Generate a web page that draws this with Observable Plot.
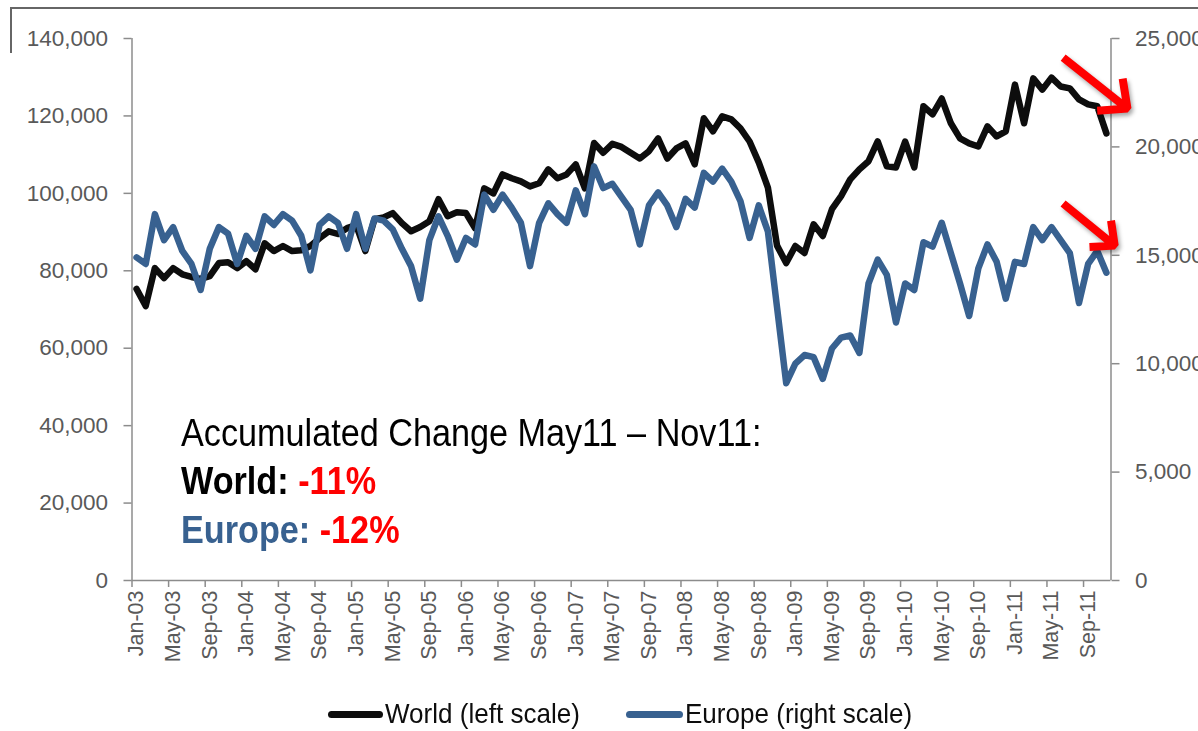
<!DOCTYPE html>
<html>
<head>
<meta charset="utf-8">
<script src="https://cdn.jsdelivr.net/npm/d3@7"></script>
<script src="https://cdn.jsdelivr.net/npm/@observablehq/plot@0.6"></script>
<style>
  html, body { margin: 0; padding: 0; background: #fff; }
  #wrap { position: relative; width: 1198px; height: 731px; overflow: hidden;
          font-family: "Liberation Sans", Arial, sans-serif; }
  #frame { position: absolute; left: 10px; top: 7px; width: 1250px; height: 44px;
           border-top: 2px solid #666; border-left: 2px solid #666; }
  #chart { position: absolute; left: 0; top: 0; }
  #note { position: absolute; left: 181px; top: 408.5px; font-size: 38px; line-height: 48.5px;
          white-space: nowrap; color: #000; transform: scaleX(0.9); transform-origin: 0 0; }
  #note b { font-weight: bold; }
  .sw { position: absolute; top: 711px; height: 7px; border-radius: 4px; }
  .lt { position: absolute; top: 697px; font-size: 28px; line-height: 34px; color: #0d0d0d; white-space: nowrap;
        transform: scaleX(0.93); transform-origin: 0 0; }
</style>
</head>
<body>
<div id="wrap">
  <div id="frame"></div>
  <div id="chart"></div>
  <div id="note"></div>
  <div id="legend"></div>
</div>
<script>
// ---- data (monthly, Jan-03 .. Nov-11) ----
const world = [
  75300, 70900, 80700, 78100, 80700, 79100, 78400, 77900, 78600, 82000, 82200, 80700,
  82500, 80400, 87100, 85100, 86400, 85100, 85300, 86400, 88400, 90200, 89500, 91000,
  91800, 85100, 93300, 93800, 94900, 92300, 90200, 91300, 92800, 98500, 94100, 95100,
  94900, 91000, 101300, 100000, 104900, 103900, 103100, 101800, 102600, 106200, 103900, 104900,
  107500, 101300, 113000, 110500, 112800, 112000, 110500, 109000, 110900, 114200, 109000, 111600,
  112900, 107500, 119400, 116000, 119900, 119100, 116800, 113400, 108000, 101500, 86500, 82000,
  86400, 84600, 92000, 89000, 95900, 99300, 103600, 106200, 108300, 113400, 107000, 106700,
  113400, 106700, 122500, 120400, 124500, 118100, 114200, 112900, 112100, 117300, 114700, 116000,
  128100, 118100, 129700, 126800, 129900, 127600, 127100, 124300, 123000, 122500, 115500
];
const europe = [
  14900, 14600, 16900, 15700, 16300, 15200, 14600, 13400, 15300, 16300, 16000, 14600,
  15900, 15300, 16800, 16400, 16900, 16600, 15900, 14300, 16400, 16800, 16500, 15300,
  16900, 15300, 16700, 16600, 16200, 15300, 14500, 13000, 15700, 16800, 15900, 14800,
  15800, 15500, 17800, 17100, 17800, 17200, 16500, 14500, 16500, 17400, 16900, 16500,
  18000, 16900, 19100, 18100, 18300, 17700, 17100, 15500, 17300, 17900, 17300, 16300,
  17600, 17200, 18800, 18400, 19000, 18400, 17500, 15800, 17300, 16100, 12600, 9100,
  10000, 10400, 10300, 9300, 10700, 11200, 11300, 10500, 13700, 14800, 14100, 11900,
  13700, 13400, 15600, 15400, 16500, 15100, 13700, 12200, 14400, 15500, 14700, 13000,
  14700, 14600, 16300, 15700, 16300, 15700, 15100, 12800, 14600, 15200, 14200
];
const tickLabels = ["Jan-03","May-03","Sep-03","Jan-04","May-04","Sep-04","Jan-05","May-05","Sep-05",
  "Jan-06","May-06","Sep-06","Jan-07","May-07","Sep-07","Jan-08","May-08","Sep-08",
  "Jan-09","May-09","Sep-09","Jan-10","May-10","Sep-10","Jan-11","May-11","Sep-11"];
const leftTicks = [0, 20000, 40000, 60000, 80000, 100000, 120000, 140000];
const rightTicks = [0, 5000, 10000, 15000, 20000, 25000];
const seriesNames = ["World (left scale)", "Europe (right scale)"];
const seriesColors = ["#0d0d0d", "#386190"];
// annotation arrows: month index and left-scale value
const arrows = [
  {x1: 100.5, y1: 136500, x2: 108.3, y2: 121900},
  {x1: 100.5, y1: 98850, x2: 106.9, y2: 86500}
];
const noteTitle = "Accumulated Change May11 \u2013 Nov11:";
const noteRows = [
  {label: "World:", value: "-11%", color: "#000"},
  {label: "Europe:", value: "-12%", color: "#386190"}
];

// ---- build ----
const K = 140000 / 25000;  // right scale -> left scale
const rows = world.map((w, i) => ({i, world: w, europe: europe[i]}));
const fmt = d3.format(",");
const FONT = '"Liberation Sans", Arial, sans-serif';
const axisGray = "#8c8c8c";
const textGray = "#595959";

const chart = Plot.plot({
  width: 1198,
  height: 690,
  marginTop: 38,
  marginBottom: 110,
  marginLeft: 131.5,
  marginRight: 87.5,
  style: {fontFamily: FONT, background: "transparent", overflow: "visible"},
  x: {type: "linear", domain: [-0.5, world.length - 0.5]},
  y: {domain: [0, 140000]},
  marks: [
    Plot.ruleY([0], {stroke: axisGray, strokeWidth: 1.5}),
    Plot.ruleX([-0.5], {stroke: axisGray, strokeWidth: 1.5}),
    Plot.ruleX([world.length - 0.5], {stroke: axisGray, strokeWidth: 1.5}),
    Plot.axisY({ticks: leftTicks, tickFormat: fmt, tickSize: 8, tickPadding: 16, fontSize: 22.5,
                stroke: axisGray, fill: textGray, label: null, strokeWidth: 1.5}),
    Plot.axisY({anchor: "right", ticks: rightTicks.map(v => v * K), tickFormat: d => fmt(Math.round(d / K)),
                tickSize: 8, tickPadding: 16, fontSize: 22.5, stroke: axisGray, fill: textGray, label: null, strokeWidth: 1.5}),
    Plot.axisX({ticks: tickLabels.map((_, k) => k * 4 - 0.5), tickFormat: () => "", tickSize: 7,
                stroke: axisGray, label: null, strokeWidth: 1.5}),
    Plot.axisX({ticks: tickLabels.map((_, k) => k * 4), tickFormat: d => tickLabels[Math.round(d / 4)],
                tickRotate: -90, tickSize: 0, tickPadding: 10, fontSize: 21.5, fill: textGray, label: null}),
    Plot.line(rows, {x: "i", y: "world", stroke: seriesColors[0], strokeWidth: 6.5, strokeLinejoin: "round"}),
    Plot.line(rows, {x: "i", y: d => d.europe * K, stroke: seriesColors[1], strokeWidth: 6.5, strokeLinejoin: "round"}),
    Plot.arrow(arrows, {x1: "x1", y1: "y1", x2: "x2", y2: "y2", stroke: "#ff0000", strokeWidth: 8,
                        headAngle: 85, headLength: 20, insetStart: 9, strokeLinecap: "butt"})
  ]
});
document.getElementById("chart").appendChild(chart);
chart.querySelectorAll('[aria-label="arrow"]').forEach(g => {
  g.style.filter = "drop-shadow(2px 3px 2px rgba(0,0,0,0.35))";
});

// annotation
const note = document.getElementById("note");
const t = document.createElement("div");
t.textContent = noteTitle;
note.appendChild(t);
noteRows.forEach(r => {
  const d = document.createElement("div");
  const a = document.createElement("b");
  a.textContent = r.label + " ";
  a.style.color = r.color;
  const b = document.createElement("b");
  b.textContent = r.value;
  b.style.color = "#ff0000";
  d.appendChild(a); d.appendChild(b);
  note.appendChild(d);
});

// legend
const legend = document.getElementById("legend");
const swLeft = [328, 626], swWidth = [55, 57], txLeft = [385, 685];
seriesNames.forEach((name, k) => {
  const s = document.createElement("div");
  s.className = "sw";
  s.style.left = swLeft[k] + "px";
  s.style.width = swWidth[k] + "px";
  s.style.background = seriesColors[k];
  legend.appendChild(s);
  const l = document.createElement("div");
  l.className = "lt";
  l.style.left = txLeft[k] + "px";
  l.textContent = name;
  legend.appendChild(l);
});
</script>
</body>
</html>
